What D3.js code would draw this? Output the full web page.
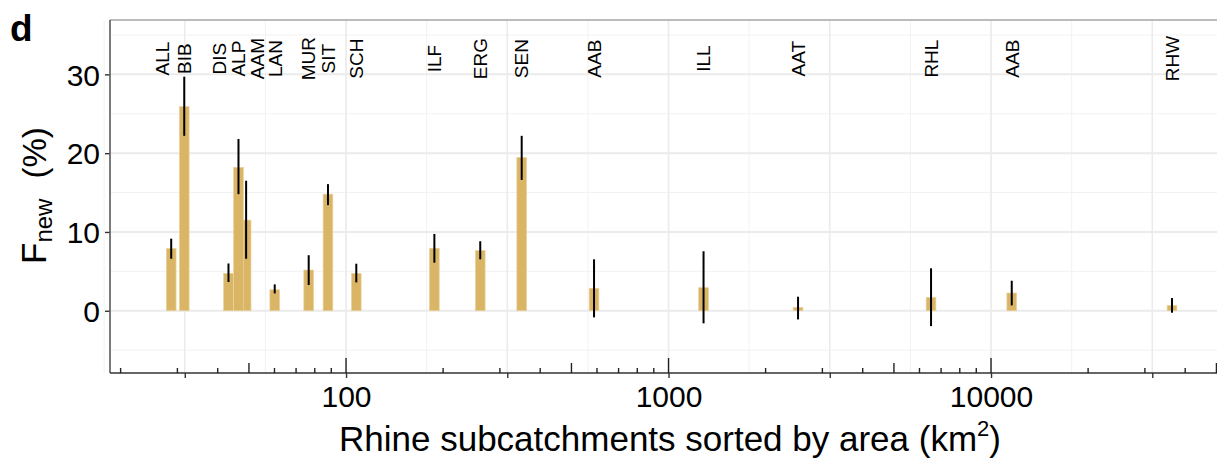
<!DOCTYPE html>
<html>
<head>
<meta charset="utf-8">
<script src="https://cdn.jsdelivr.net/npm/d3@7"></script>
<style>
  html, body { margin: 0; padding: 0; background: #fff; }
  svg { display: block; }
  text { font-family: "Liberation Sans", Arial, sans-serif; }
</style>
</head>
<body>
<svg id="chart" width="1217" height="464"></svg>
<script>
// ---- data ----
const categories = ["ALL","BIB","DIS","ALP","AAM","LAN","MUR","SIT","SCH","ILF","ERG","SEN","AAB","ILL","AAT","RHL","AAB","RHW"];
const areas      = [28.7, 31.5, 43.2, 46.4, 49.0, 60.1, 76.6, 87.9, 107.6, 187.9, 260.7, 350.5, 587.5, 1284, 2521, 6516, 11594, 36405];
const fNew       = [7.9, 25.9, 4.75, 18.2, 11.5, 2.67, 5.17, 14.8, 4.75, 7.93, 7.63, 19.45, 2.85, 2.93, 0.43, 1.7, 2.25, 0.68];
const errLow     = [6.6, 22.2, 3.65, 14.8, 6.6, 2.2, 3.27, 13.4, 3.6, 6.1, 6.53, 16.6, -0.84, -1.6, -1.1, -1.95, 0.68, -0.25];
const errHigh    = [9.15, 29.7, 6.0, 21.8, 16.5, 3.35, 7.05, 16.07, 5.97, 9.75, 8.82, 22.2, 6.53, 7.55, 1.78, 5.39, 3.81, 1.61];
const labelAreas = [27.0, 31.5, 40.4, 46.4, 53.2, 60.1, 76.6, 87.9, 107.6, 187.9, 260.7, 350.5, 587.5, 1284, 2521, 6516, 11594, 36405];
const labelValue = 32;
const yTicks = [0, 10, 20, 30];
const yTickLabels = ["0", "10", "20", "30"];
const yMinor = [-5, 5, 15, 25, 35];
const xMajor = [31.62, 100, 316.2, 1000, 3162, 10000, 31623];
const xMinor = [17.78, 56.23, 177.8, 562.3, 1778, 5623, 17783, 56234];
const xTickLabels = {100: "100", 1000: "1000", 10000: "10000"};

// ---- layout ----
const svg = d3.select("#chart");
const pL = 110, pR = 1240, pT = 20, pB = 373;
const x = d3.scaleLog().domain([18.54, 59156]).range([pL, pR]);
const y = d3.scaleLinear().domain([-7.9, 36.9]).range([pB, pT]);
const barW = 9.7;

// gridlines
const grid = svg.append("g");
grid.selectAll(".ymin").data(yMinor).enter().append("line")
  .attr("x1", pL).attr("x2", pR).attr("y1", d => y(d)).attr("y2", d => y(d))
  .attr("stroke", "#f2f2f2").attr("stroke-width", 1);
grid.selectAll(".xmin").data(xMinor).enter().append("line")
  .attr("x1", d => x(d)).attr("x2", d => x(d)).attr("y1", pT).attr("y2", pB)
  .attr("stroke", "#f2f2f2").attr("stroke-width", 1);
grid.selectAll(".ymaj").data(yTicks).enter().append("line")
  .attr("x1", pL).attr("x2", pR).attr("y1", d => y(d)).attr("y2", d => y(d))
  .attr("stroke", "#ebebeb").attr("stroke-width", 2);
grid.selectAll(".xmaj").data(xMajor).enter().append("line")
  .attr("x1", d => x(d)).attr("x2", d => x(d)).attr("y1", pT).attr("y2", pB)
  .attr("stroke", "#ebebeb").attr("stroke-width", 1.6);

// bars (drawn from largest area to smallest so small ones sit on top)
const idx = d3.range(categories.length).reverse();
svg.append("g").selectAll("rect").data(idx).enter().append("rect")
  .attr("x", i => x(areas[i]) - barW / 2)
  .attr("width", barW)
  .attr("y", i => Math.min(y(fNew[i]), y(0)))
  .attr("height", i => Math.abs(y(0) - y(fNew[i])))
  .attr("fill", "#dbb566")
  .attr("stroke", "#e9d29c").attr("stroke-width", 0.7);

// error bars
svg.append("g").selectAll("line").data(d3.range(categories.length)).enter().append("line")
  .attr("x1", i => x(areas[i])).attr("x2", i => x(areas[i]))
  .attr("y1", i => y(errLow[i])).attr("y2", i => y(errHigh[i]))
  .attr("stroke", "#000").attr("stroke-width", 2);

// catchment labels
const labFs = 19;
svg.append("g").selectAll("text").data(d3.range(categories.length)).enter().append("text")
  .attr("transform", i => `translate(${x(labelAreas[i]) + 0.358 * labFs},${y(labelValue)}) rotate(-90)`)
  .attr("text-anchor", "middle")
  .attr("font-size", labFs)
  .attr("fill", "#000")
  .text(i => categories[i]);

// panel border top
svg.append("line").attr("x1", pL).attr("x2", pR).attr("y1", pT).attr("y2", pT)
  .attr("stroke", "#a6a6a6").attr("stroke-width", 1.6);

// y axis
const yAxis = svg.append("g").attr("transform", `translate(${pL},0)`)
  .call(d3.axisLeft(y).tickValues(yTicks).tickSize(5).tickFormat((d, i) => yTickLabels[i]));
yAxis.select(".domain").remove();
yAxis.append("line").attr("x1", 0).attr("x2", 0).attr("y1", pT).attr("y2", pB)
  .attr("stroke", "#5a5a5a").attr("stroke-width", 1.6);
yAxis.selectAll(".tick line").attr("stroke", "#333").attr("stroke-width", 1.4);
yAxis.selectAll(".tick text").attr("font-size", 30).attr("fill", "#000")
  .attr("x", -10).attr("dy", null).attr("y", 10.7);

// x axis
const xAxis = svg.append("g").attr("transform", `translate(0,${pB})`)
  .call(d3.axisBottom(x).tickValues(xMajor).tickSize(5)
    .tickFormat(d => xTickLabels[Math.round(d)] || ""));
xAxis.select(".domain").remove();
xAxis.append("line").attr("x1", pL).attr("x2", pR).attr("y1", 0).attr("y2", 0)
  .attr("stroke", "#333").attr("stroke-width", 1.6);
xAxis.selectAll(".tick line").attr("stroke", "#333").attr("stroke-width", 1.4);
xAxis.selectAll(".tick text").attr("font-size", 30).attr("fill", "#000")
  .attr("dy", null).attr("y", 34);

// log ticks inside the panel
const logTicks = [];
for (let k = 1; k <= 4; k++) {
  for (let m = 1; m <= 9; m++) {
    const v = m * Math.pow(10, k);
    if (v >= x.domain()[0] && v <= x.domain()[1]) logTicks.push({v, len: m === 1 ? 15 : (m === 5 ? 10 : 5)});
  }
}
svg.append("g").selectAll("line").data(logTicks).enter().append("line")
  .attr("x1", d => x(d.v)).attr("x2", d => x(d.v))
  .attr("y1", pB).attr("y2", d => pB - d.len)
  .attr("stroke", "#222").attr("stroke-width", 1.4);

// x axis title
const xt = svg.append("text").attr("x", 670).attr("y", 451)
  .attr("text-anchor", "middle").attr("font-size", 35).attr("fill", "#000");
xt.append("tspan").text("Rhine subcatchments sorted by area (km");
xt.append("tspan").attr("font-size", 22).attr("dy", -15).text("2");
xt.append("tspan").attr("dy", 15).text(")");

// y axis title
const yt = svg.append("text").attr("transform", "translate(46,264) rotate(-90)")
  .attr("text-anchor", "start").attr("font-size", 35).attr("fill", "#000");
yt.append("tspan").text("F");
yt.append("tspan").attr("font-size", 24).attr("dy", 6).text("new");
yt.append("tspan").attr("font-size", 33).attr("dy", -6).attr("dx", 20).text("(%)");

// panel tag
svg.append("text").attr("x", 10).attr("y", 41).attr("font-size", 37)
  .attr("font-weight", "bold").attr("fill", "#000").text("d");
</script>
</body>
</html>
